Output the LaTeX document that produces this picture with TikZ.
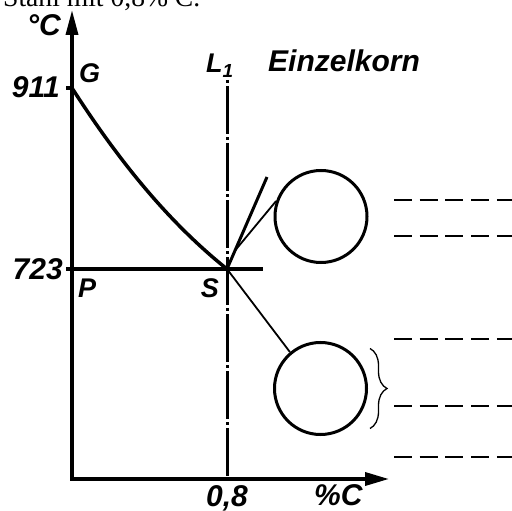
\documentclass[tikz,border=0pt]{standalone}
\usepackage{fontspec}
\setmainfont{Liberation Serif}
\setsansfont{Liberation Sans}
\usepackage{tikz}
\usetikzlibrary{arrows.meta,calc,decorations.pathreplacing}

\begin{document}
\begin{tikzpicture}[
    x=1pt, y=-1pt,
    axis/.style={line width=3.5pt, line join=miter, arrows={Triangle[length=25pt,width=12pt]-Triangle[length=24pt,width=13pt]}},
    curve/.style={line width=3.5pt},
    guide/.style={line width=3pt, dash pattern=on 3pt off 3pt on 48pt off 3pt},
    grain/.style={circle, draw, line width=3pt, minimum size=92pt, inner sep=0pt},
    level/.style={line width=2.5pt, dash pattern=on 18pt off 7.7pt},
    lbl/.style={inner sep=0pt, font=\fontsize{30}{32}\selectfont\sffamily\bfseries\itshape},
    pnt/.style={inner sep=0pt, font=\fontsize{27}{29}\selectfont\sffamily\bfseries\itshape}
]
    \useasboundingbox (0,0) rectangle (512,511);

    % Title (cut at the top)
    \node[anchor=base west, inner sep=0pt, font=\fontsize{27.6}{30}\selectfont] (titel) at (3,7) {Stahl mit 0,8\% C.};

    % Points
    \coordinate (O) at (72,479);
    \coordinate (ytip) at (72,10);
    \coordinate (xtip) at (389,479);
    \coordinate (G) at (72,88);
    \coordinate (P) at (72,269);
    \coordinate (S) at (227,269);
    \coordinate (Lo) at (227,80);
    \coordinate (Lu) at (227,479);
    \coordinate (ast) at (267,177);

    % Axes
    \draw[axis] (ytip) -- (O) -- (xtip);

    % Lines
    \draw[curve] (G) -- ++(-6,0);
    \draw[curve] (P) ++(-6,0) -- (263,269);
    \draw[curve] (G) .. controls (122,166) and (172,225) .. (S);
    \draw[guide] (Lo) -- (Lu);

    % Grains
    \node[grain] (korn1) at (321,216.5) {};
    \node[grain] (korn2) at (320.5,388.5) {};

    \draw[line width=3pt] (S) -- (ast);
    \draw[line width=1.8pt] ($(S)!0.2!(ast)$) -- (korn1.161);
    \draw[line width=1.8pt] (S) -- (korn2.130);
    \draw[line width=1.3pt, decorate, decoration={brace, amplitude=17pt}]
        ($(korn2.east)+(2,-40)$) -- ($(korn2.east)+(2,40)$);

    % Levels
    \foreach \y in {200,236,339,406,457}
        \draw[level] (394,\y) -- (512,\y);

    % Labels
    \node[lbl, anchor=east] (einheit) at (61,25) {°C};
    \node[lbl, anchor=east] (t911) at (60,87) {911};
    \node[lbl, anchor=east] (t723) at (63,269) {723};
    \node[pnt, anchor=base west] (tG) at (79,83) {G};
    \node[pnt, anchor=base west] (tP) at (78,297) {P};
    \node[pnt, anchor=base east] (tS) at (219,297) {S};
    \node[pnt, anchor=base west] (tL) at (206,73) {L\textsubscript{1}};
    \node[lbl, anchor=base west] (einzel) at (268,72) {Einzelkorn};
    \node[lbl, anchor=base] (t08) at (227,506) {0,8};
    \node[lbl, anchor=base west] (tC) at (314,505) {\%C};

\end{tikzpicture}
\end{document}
